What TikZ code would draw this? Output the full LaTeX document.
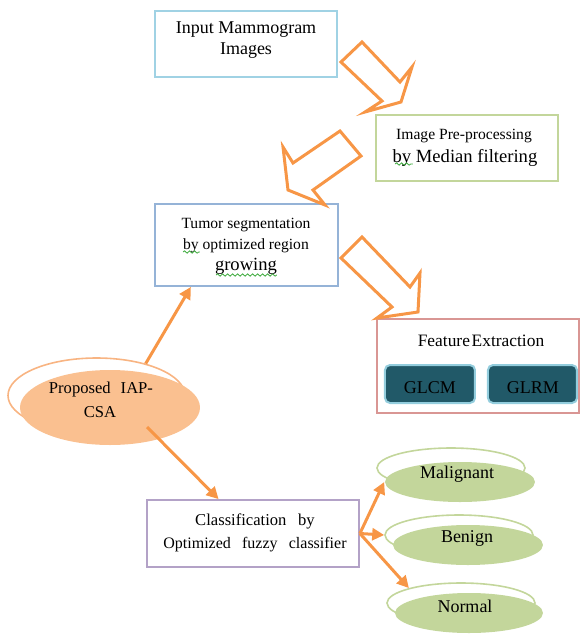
\documentclass[tikz,border=0pt]{standalone}
\usepackage{fontspec}
\setmainfont{Liberation Serif}
\usetikzlibrary{shapes.geometric,arrows.meta,decorations.pathmorphing}
\definecolor{orangeA}{RGB}{247,150,70}
\definecolor{orangeF}{RGB}{250,192,144}
\definecolor{orangeL}{RGB}{248,180,130}
\definecolor{boxblue}{RGB}{160,210,228}
\definecolor{boxgreen}{RGB}{195,214,155}
\definecolor{boxsteel}{RGB}{149,179,215}
\definecolor{boxred}{RGB}{217,150,148}
\definecolor{boxlav}{RGB}{179,162,199}
\definecolor{greenF}{RGB}{195,214,155}
\definecolor{greenL}{RGB}{195,214,155}
\definecolor{tealD}{RGB}{33,89,104}
\definecolor{tealE}{RGB}{147,205,221}
\definecolor{squig}{RGB}{60,170,60}
\begin{document}
\begin{tikzpicture}[x=0.5pt,y=-0.5pt,
  box/.style={draw, line width=0.9pt, inner sep=0pt},
  txt/.style={inner sep=0pt, anchor=base, font=\fontsize{9}{11}\selectfont},
  btn/.style={draw=tealE, fill=tealD, line width=1pt, rounded corners=2.5pt, inner sep=0pt},
  ell/.style={ellipse, inner sep=0pt, line width=0.8pt},
  blockarrow/.style={draw=orangeA, line width=1.5pt, line join=miter},
  link/.style={draw=orangeA, line width=1.5pt, -{Triangle[length=6pt,width=6pt]}},
  wavy/.style={draw=squig, line width=0.4pt, decorate, decoration={snake, amplitude=0.6pt, segment length=2.5pt}}
]
\useasboundingbox (0,0) rectangle (582,634);

% boxes
\node[box, draw=boxblue, minimum width=91pt, minimum height=33pt] (inp) at (246,44) {};
\node[box, draw=boxgreen, minimum width=91pt, minimum height=33pt] (pre) at (467,148) {};
\node[box, draw=boxsteel, minimum width=91.5pt, minimum height=41pt] (tum) at (246.5,245) {};
\node[box, draw=boxred, minimum width=101pt, minimum height=47pt] (fea) at (478,366) {};
\node[btn, minimum width=45pt, minimum height=19pt] (glcm) at (430,384) {};
\node[btn, minimum width=44.5pt, minimum height=19pt] (glrm) at (532.5,384) {};
\node[box, draw=boxlav, minimum width=106pt, minimum height=33.5pt] (cls) at (253,533.5) {};

% texts
\node[txt] (t1a) at (246,33) {Input Mammogram};
\node[txt] (t1b) at (246,54) {Images};
\node[txt, font=\fontsize{7.8}{9}\selectfont] (t2a) at (464,139) {Image Pre-processing};
\node[txt, font=\fontsize{9.3}{11}\selectfont] (t2b) at (465,162) {by Median filtering};
\node[txt, font=\fontsize{7.8}{9}\selectfont] (t3a) at (246,228) {Tumor segmentation};
\node[txt, font=\fontsize{7.8}{9}\selectfont] (t3b) at (246,249) {by optimized region};
\node[txt, font=\fontsize{9.3}{11}\selectfont] (t3c) at (246,270) {growing};
\node[txt, font=\fontsize{8.7}{10}\selectfont] (t4) at (481,346) {Feature\hspace{0.1em}Extraction};
\node[txt] (t5) at (430,393) {GLCM};
\node[txt] (t6) at (533,393) {GLRM};
\node[txt, font=\fontsize{8.3}{10}\selectfont] (t8a) at (255,525) {Classification\hspace{0.7em}by};
\node[txt, font=\fontsize{8}{10}\selectfont] (t8b) at (255,548) {Optimized\hspace{0.7em}fuzzy\hspace{0.7em}classifier};

% wavy spell-check marks
\draw[wavy] (395,164) -- (413,164);
\draw[wavy] (183,252) -- (200,252);
\draw[wavy] (216,275) -- (277,275);

% ellipses
\node[ell, draw=orangeL, minimum width=88.5pt, minimum height=37.5pt] (propo) at (96.5,395.5) {};
\node[ell, fill=orangeF, minimum width=90pt, minimum height=37.5pt] (prop) at (110,407.5) {};
\node[txt, font=\fontsize{8.3}{10}\selectfont] (t7a) at (101,393) {Proposed\hspace{0.6em}IAP-};
\node[txt, font=\fontsize{8.3}{10}\selectfont] (t7b) at (100,417) {CSA};

\node[ell, draw=greenL, minimum width=74pt, minimum height=20pt] (malo) at (451,468) {};
\node[ell, fill=greenF, minimum width=75pt, minimum height=20pt] (mal) at (460,482) {};
\node[ell, draw=greenL, minimum width=74pt, minimum height=20pt] (beno) at (459,535) {};
\node[ell, fill=greenF, minimum width=75pt, minimum height=20pt] (ben) at (468,545) {};
\node[ell, draw=greenL, minimum width=74pt, minimum height=20pt] (noro) at (461,603) {};
\node[ell, fill=greenF, minimum width=74pt, minimum height=20pt] (nor) at (469,613) {};
\node[txt] (t9) at (457,478) {Malignant};
\node[txt] (t10) at (467,542) {Benign};
\node[txt] (t11) at (465,612) {Normal};

% block arrows
\draw[blockarrow] (341,62) -- (362,42) -- (400,82) -- (412,67) -- (401,102) -- (365,112) -- (382,101) -- cycle;
\draw[blockarrow] (340,131) -- (361,156) -- (313,190) -- (325,205) -- (288,190) -- (283,147) -- (293,163) -- cycle;
\draw[blockarrow] (341,258) -- (362,237) -- (410,287) -- (420,273) -- (418,312) -- (377,318) -- (392,307) -- cycle;

% connectors
\coordinate (s2) at (147,427);
\draw[link] (propo.33) -- (tum.217);
\draw[link] (s2) -- (cls.135);
\draw[link] (cls.east) -- (mal.west);
\draw[link] (cls.east) -- (beno.west);
\draw[link] (cls.east) -- (noro.164);
\end{tikzpicture}
\end{document}
